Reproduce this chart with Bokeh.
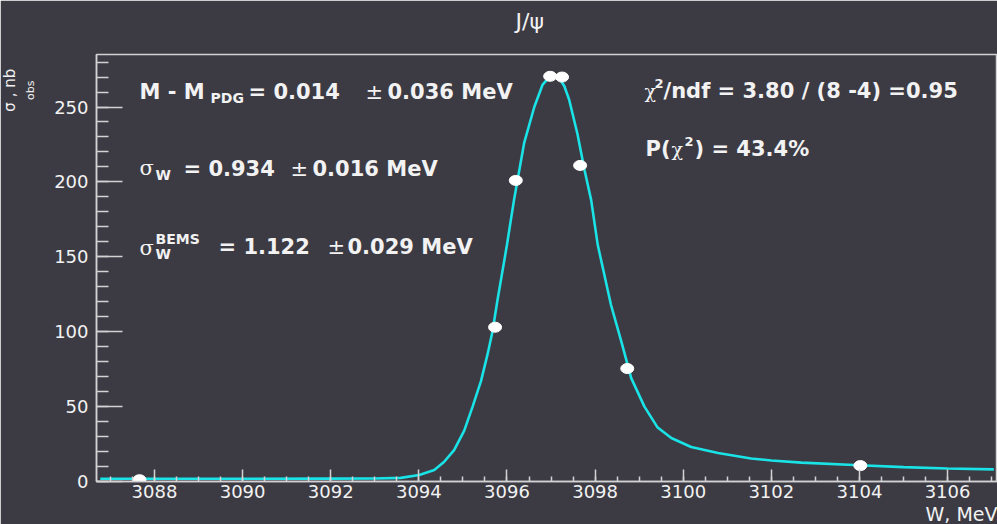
from bokeh.plotting import figure
from bokeh.models import Range1d, SingleIntervalTicker, Label, ColumnDataSource, Title
from bokeh.embed import file_html
from bokeh.resources import INLINE

# ---- data ----
point_w = [3087.66, 3095.73, 3096.20, 3096.98, 3097.25, 3097.66, 3098.73, 3104.02]
point_sigma = [1.2, 103, 201, 270.5, 270, 211, 75.4, 10.6]

curve_w = [3086.77, 3088.0, 3090.0, 3092.0, 3093.0, 3093.59, 3094.01, 3094.35, 3094.57,
           3094.80, 3095.03, 3095.22, 3095.41, 3095.56, 3095.67, 3095.79, 3096.00,
           3096.16, 3096.39, 3096.62, 3096.81, 3096.96, 3097.08, 3097.19, 3097.30,
           3097.41, 3097.60, 3097.76, 3097.91, 3098.06, 3098.36, 3098.59, 3098.82,
           3099.12, 3099.42, 3099.73, 3100.18, 3100.79, 3101.54, 3102.00, 3102.68,
           3104.00, 3105.00, 3106.00, 3107.05]
curve_sigma = [1.8, 1.8, 1.8, 1.9, 2.0, 2.4, 4.4, 7.7, 13, 21, 34, 50, 67, 85, 100, 122, 158,
               188, 226, 250, 265, 270, 271, 269, 264, 255, 232, 208, 188, 158, 118, 94, 69,
               50, 36, 29, 23, 19, 15.4, 14.0, 12.6, 10.8, 9.6, 8.7, 8.1]

x_major = 2
y_major = 50

BG = "#3c3b44"
AX = "#d2d2d2"
TXT = "#f2f2f2"
CYAN = "#19e3e6"
SANS = "DejaVu Sans"
SERIF = "DejaVu Serif"

FL, FB = 96, 485  # canvas position of frame left / bottom

p = figure(width=997, height=524,
           x_range=Range1d(3086.684, 3107.133), y_range=Range1d(0, 285.05),
           output_backend="svg", toolbar_location=None,
           min_border_left=96, min_border_right=0, min_border_top=54, min_border_bottom=39)
p.background_fill_color = BG
p.border_fill_color = BG
p.outline_line_color = AX
p.outline_line_width = 1.5
p.grid.visible = False

p.xaxis.ticker = SingleIntervalTicker(interval=x_major, num_minor_ticks=4)
p.yaxis.ticker = SingleIntervalTicker(interval=y_major, num_minor_ticks=5)
for ax in (p.xaxis, p.yaxis):
    ax.axis_line_color = AX
    ax.axis_line_width = 1.5
    ax.major_tick_line_color = AX
    ax.minor_tick_line_color = AX
    ax.major_tick_line_width = 1.5
    ax.minor_tick_line_width = 1.5
    ax.major_tick_out = 0
    ax.minor_tick_out = 0
    ax.major_label_text_font = SANS
    ax.major_label_text_font_size = "18px"
    ax.major_label_text_color = TXT
p.xaxis.major_tick_in = 12
p.xaxis.minor_tick_in = 5
p.xaxis.major_label_standoff = 3
p.yaxis.major_tick_in = 26
p.yaxis.minor_tick_in = 12
p.yaxis.major_label_standoff = 8

# title (lifted by an empty spacer row between it and the frame)
p.title.text = "J/ψ"
p.title.align = "left"
p.title.offset = 515 - FL
p.title.standoff = 0
p.title.text_font = SANS
p.title.text_font_size = "22px"
p.title.text_font_style = "normal"
p.title.text_color = TXT
spacer = Title(text=" ", text_font=SANS, text_font_size="10px", standoff=8,
               text_color=TXT)
p.add_layout(spacer, "above")

# y axis label (two rotated rows)
t_obs = Title(text="obs", align="right", offset=26, standoff=30, text_font=SANS,
              text_font_size="11px", text_font_style="normal", text_color=TXT)
t_main = Title(text="σ    , nb", align="right", offset=0, standoff=0, text_font=SANS,
               text_font_size="15px", text_font_style="normal", text_color=TXT)
try:
    t_main.standoff = -24
except Exception:
    t_main.standoff = 0
p.add_layout(t_obs, "left")
p.add_layout(t_main, "left")

# x axis label
t_w = Title(text="W, MeV", align="right", offset=0, standoff=0, text_font=SANS,
            text_font_size="19px", text_font_style="normal", text_color=TXT)
p.add_layout(t_w, "below")

p.line(curve_w, curve_sigma, line_color=CYAN, line_width=2.6)
src = ColumnDataSource(dict(w=point_w, s=point_sigma))
p.ellipse(x="w", y="s", width=13, height=10, width_units="screen", height_units="screen",
          fill_color="white", line_color="white", source=src)


def lab(text, px, py, size, font=SANS, bold=True):
    p.add_layout(Label(text=text, x=px - FL, y=FB - py, x_units="screen", y_units="screen",
                       text_font=font, text_font_size=f"{size}px",
                       text_font_style="bold" if bold else "normal",
                       text_color=TXT, text_baseline="alphabetic", text_align="left"))


# line 1
lab("M - M", 139, 95, 21)
lab("PDG", 210, 101, 14)
lab("= 0.014", 248, 95, 21)
lab("±", 365, 95, 21, bold=False)
lab("0.036 MeV", 387, 95, 21)
# line 2
lab("σ", 139, 171, 21, font=SERIF, bold=False)
lab("W", 155, 178, 14)
lab("= 0.934", 183, 172, 21)
lab("±", 290, 172, 21, bold=False)
lab("0.016 MeV", 312, 172, 21)
# line 3
lab("σ", 139, 251, 21, font=SERIF, bold=False)
lab("BEMS", 155, 242, 14)
lab("W", 155, 257, 14)
lab("= 1.122", 218, 250, 21)
lab("±", 327, 250, 21, bold=False)
lab("0.029 MeV", 347, 250, 21)
# chi2 line
lab("χ", 644, 94, 19, font=SERIF, bold=False)
lab("2", 654, 87, 13)
lab("/ndf = 3.80 / (8 -4) =0.95", 663, 94, 21)
# P line
lab("P(", 645, 152, 21)
lab("χ", 671, 152, 19, font=SERIF, bold=False)
lab("2", 684, 145, 13)
lab(") = 43.4%", 694, 152, 21)

open("out.html", "w").write(file_html(p, INLINE))
